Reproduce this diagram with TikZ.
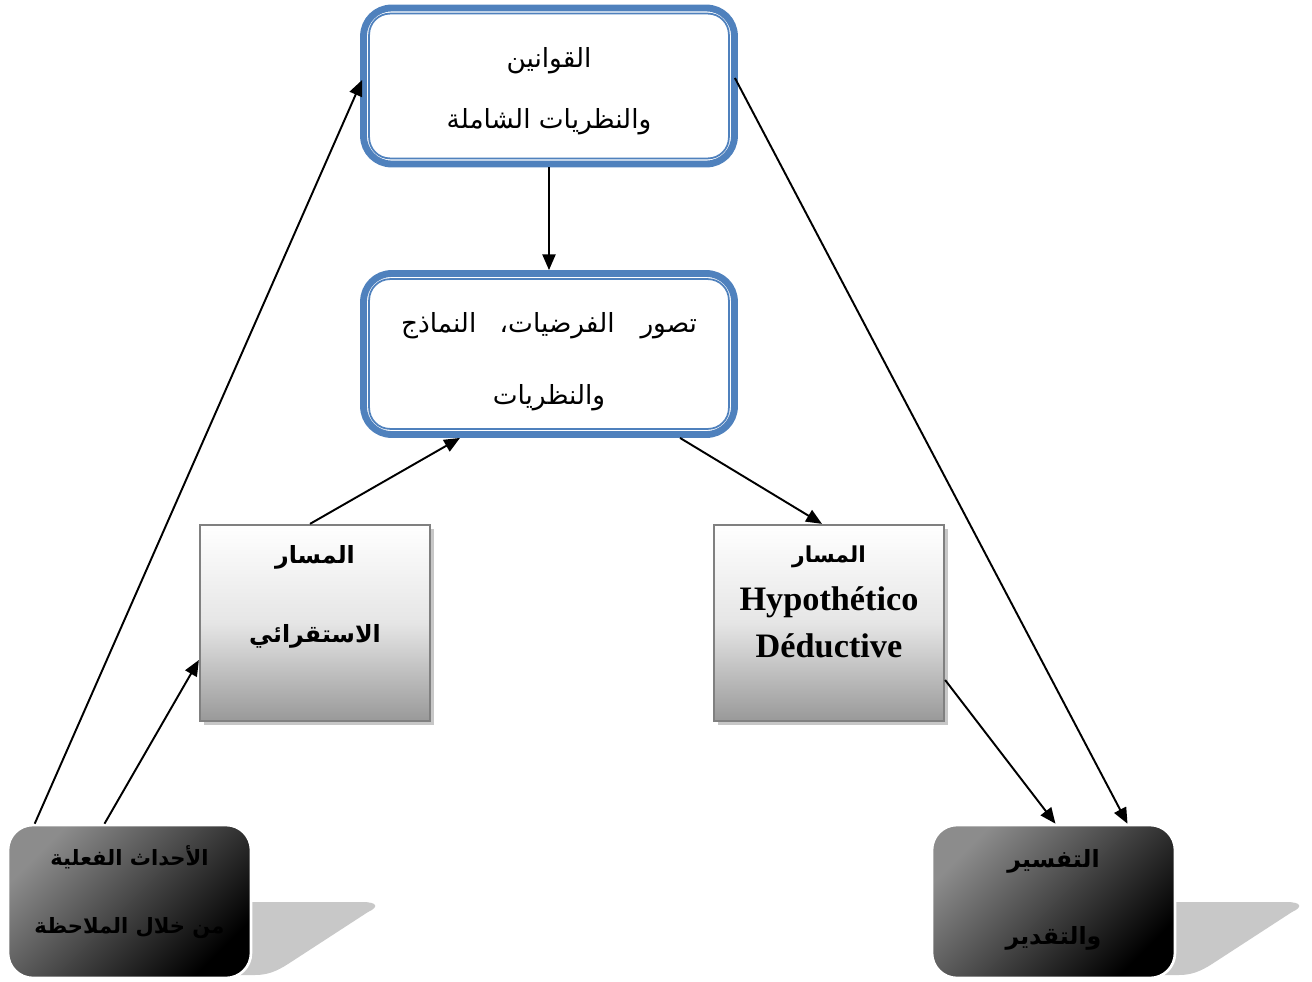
\documentclass[tikz,border=0pt]{standalone}
\usepackage{fontspec}
\setmainfont{Liberation Serif}
\newfontfamily\arabicfont[Script=Arabic]{DejaVu Sans}
\TeXXeTstate=1
\usetikzlibrary{arrows.meta,calc,shadows}
\newcommand\artext[1]{{\arabicfont\beginR #1\endR}}
\definecolor{frameblue}{RGB}{79,129,189}
\definecolor{greyframe}{RGB}{128,128,128}
\definecolor{darktop}{RGB}{140,140,140}
\definecolor{shadowgrey}{RGB}{200,200,200}

\tikzset{
  bluebox/.style={draw=frameblue, line width=3.9pt, rounded corners=0.56cm,
    fill=white, minimum width=7.42cm},
  innerline/.style={draw=frameblue, line width=1pt, rounded corners=0.42cm},
  greybox/.style={draw=greyframe, line width=1.3pt, top color=white,
    bottom color=black!40, middle color=black!10,
    minimum width=4.6cm, minimum height=3.92cm,
    drop shadow={shadow xshift=0.08cm, shadow yshift=-0.08cm, fill=black!22, opacity=1}},
  darkbox/.style={draw=white, line width=1.5pt, rounded corners=0.5cm,
    top color=darktop, bottom color=black, shading angle=45,
    minimum width=4.86cm, minimum height=3.06cm},
  boxtext/.style={align=center, inner sep=0pt},
  flow/.style={line width=1.1pt, -{Triangle[length=9pt,width=7.5pt]}},
}

\begin{document}
\begin{tikzpicture}[x=0.02cm, y=-0.02cm]
\useasboundingbox (0,0) rectangle (1312,981);

% skewed shadows under the two rounded end boxes
\fill[shadowgrey] (240,902) -- (362,902) .. controls (378,902) and (379,907) .. (368,912)
  -- (288,964) .. controls (277,971) and (268,975) .. (255,975) -- (240,975) -- cycle;
\fill[shadowgrey] (1164,902) -- (1286,902) .. controls (1302,902) and (1303,907) .. (1292,912)
  -- (1212,964) .. controls (1201,971) and (1192,975) .. (1179,975) -- (1164,975) -- cycle;

% framed boxes at the top
\node[bluebox, minimum height=3.12cm] (laws) at (549,86) {};
\draw[innerline] ($(laws.south west)+(9,-9)$) rectangle ($(laws.north east)+(-9,9)$);
\node[boxtext, font=\fontsize{15}{35}\selectfont] (laws-text) at (549,91)
  {\artext{القوانين}\\\artext{والنظريات الشاملة}};

\node[bluebox, minimum height=3.22cm] (hyp) at (549,354) {};
\draw[innerline] ($(hyp.south west)+(9,-9)$) rectangle ($(hyp.north east)+(-9,9)$);
\node[boxtext, font=\fontsize{15}{41}\selectfont] (hyp-text) at (549,362)
  {\artext{تصور\hspace{0.35cm} الفرضيات،\hspace{0.3cm} النماذج}\\\artext{والنظريات}};

% the two paths
\node[greybox] (ind) at (315,623) {};
\node[boxtext, font=\bfseries\fontsize{13.5}{45}\selectfont] (ind-text) at (315,597)
  {\artext{المسار}\\\artext{الاستقرائي}};
\node[greybox] (ded) at (829,623) {};
\node[boxtext, font=\bfseries\fontsize{19.5}{27}\selectfont] (ded-text) at (829,602)
  {{\fontsize{12.5}{30}\selectfont\artext{المسار}}\\Hypothético\\Déductive};

% start and end boxes
\node[darkbox] (facts) at (129.5,901.5) {};
\node[boxtext, font=\bfseries\fontsize{12}{38.5}\selectfont] (facts-text) at (129.5,892)
  {\artext{الأحداث الفعلية}\\\artext{من خلال الملاحظة}};
\node[darkbox] (interp) at (1053.5,901.5) {};
\node[boxtext, font=\bfseries\fontsize{13.5}{44}\selectfont] (interp-text) at (1053.5,900)
  {\artext{التفسير}\\\artext{والتقدير}};

% connectors
\draw[flow] ($(facts.north west)+(28,0)$) -- ($(laws.west)+(2,-6)$);
\draw[flow] ($(facts.north)+(-25,0)$) -- ($(ind.west)+(0,37)$);
\draw[flow] ($(ind.north)+(-5,0)$) -- ($(hyp.south)+(-89,0)$);
\draw[flow] (laws.south) -- (hyp.north);
\draw[flow] ($(hyp.south)+(131,0)$) -- ($(ded.north)+(-7,0)$);
\draw[flow] ($(ded.east)+(0,57)$) -- ($(interp.north)+(2,0)$);
\draw[flow] ($(laws.east)+(-3,-8)$) -- ($(interp.north)+(74,0)$);
\end{tikzpicture}
\end{document}
